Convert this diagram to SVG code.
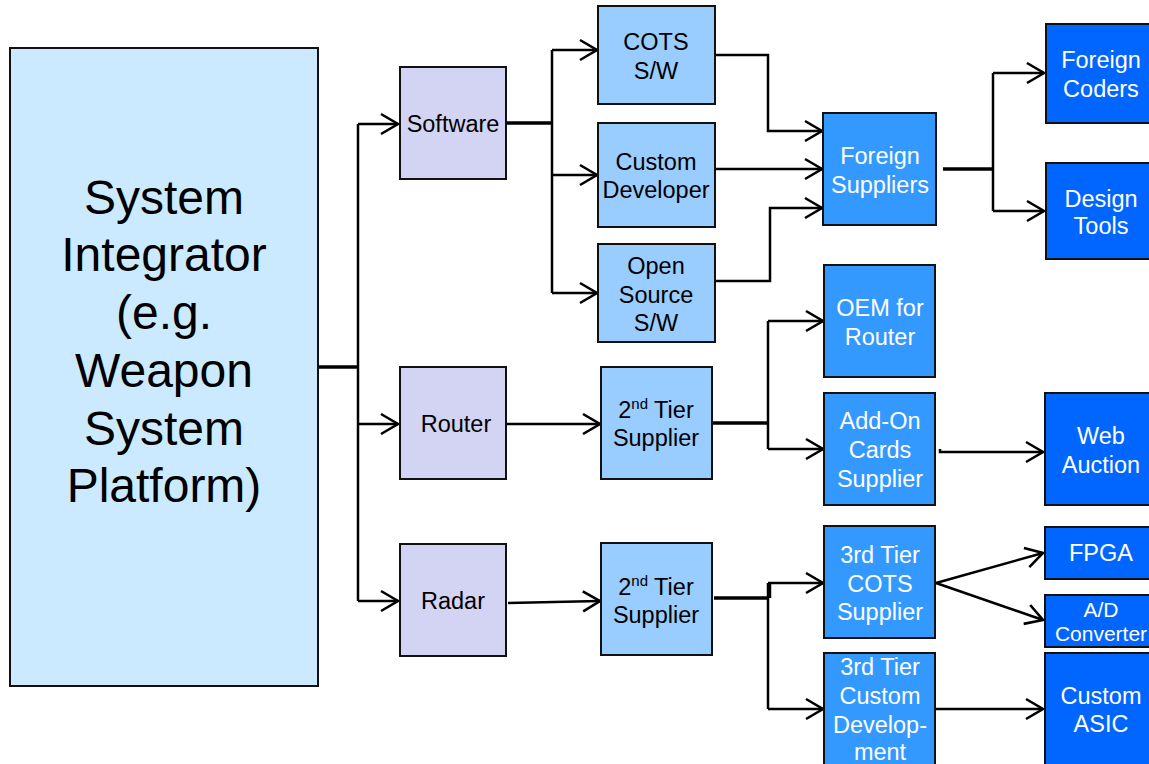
<svg xmlns="http://www.w3.org/2000/svg" width="1149" height="764" viewBox="0 0 1149 764">
  <defs>
    <marker id="arrow" markerUnits="userSpaceOnUse" markerWidth="24" markerHeight="26" viewBox="-20 -13 24 26" refX="0" refY="0" orient="auto">
      <path d="M -17 -10 L 0 0 L -17 10" fill="none" stroke="#000" stroke-width="2.6"/>
    </marker>
  </defs>
  <style>
    .box { stroke: #111; stroke-width: 2; }
    .integrator { fill: #CCEAFF; }
    .domain { fill: #D3D3F3; }
    .tier2 { fill: #99CCFF; }
    .tier3 { fill: #3399FF; }
    .tier4 { fill: #0066FF; }
    text { font-family: "Liberation Sans", Arial, sans-serif; font-size: 23.5px; text-anchor: middle; }
    .dark { fill: #000; }
    .light { fill: #fff; }
    .big { font-size: 48px; }
    .small { font-size: 21px; }
    .sup { font-size: 15px; }
    .link { fill: none; stroke: #000; stroke-width: 2.5; }
    .trunk { fill: none; stroke: #000; stroke-width: 3.5; }
  </style>
  <rect width="1149" height="764" fill="#fff"/>

  <!-- connectors -->
  <g id="connectors">
    <!-- integrator to domains -->
    <path class="trunk" d="M 318 367 L 358 367"/>
    <path class="link" d="M 358 124 L 358 601"/>
    <path class="link" d="M 358 124 L 398 124" marker-end="url(#arrow)"/>
    <path class="link" d="M 358 424 L 398 424" marker-end="url(#arrow)"/>
    <path class="link" d="M 358 601 L 398 601" marker-end="url(#arrow)"/>

    <!-- software branch -->
    <path class="trunk" d="M 506 123 L 552 123"/>
    <path class="link" d="M 552 50 L 552 293"/>
    <path class="link" d="M 552 50 L 597 50" marker-end="url(#arrow)"/>
    <path class="link" d="M 552 175 L 597 175" marker-end="url(#arrow)"/>
    <path class="link" d="M 552 293 L 597 293" marker-end="url(#arrow)"/>

    <!-- software sources to foreign suppliers -->
    <path class="link" d="M 715 55 L 768 55 L 768 131 L 822 131" marker-end="url(#arrow)"/>
    <path class="link" d="M 713 169 L 822 169" marker-end="url(#arrow)"/>
    <path class="link" d="M 715 281 L 770 281 L 770 208 L 822 208" marker-end="url(#arrow)"/>

    <!-- foreign suppliers fan-out -->
    <path class="trunk" d="M 943 169 L 993 169"/>
    <path class="link" d="M 993 73 L 993 211"/>
    <path class="link" d="M 993 73 L 1044 73" marker-end="url(#arrow)"/>
    <path class="link" d="M 993 211 L 1044 211" marker-end="url(#arrow)"/>

    <!-- router branch -->
    <path class="link" d="M 506 424 L 600 424" marker-end="url(#arrow)"/>
    <path class="trunk" d="M 712 423 L 768 423"/>
    <path class="link" d="M 768 321 L 768 449"/>
    <path class="link" d="M 768 321 L 823 321" marker-end="url(#arrow)"/>
    <path class="link" d="M 768 449 L 823 449" marker-end="url(#arrow)"/>
    <path class="link" d="M 940 449 L 940 452 L 1043 452" marker-end="url(#arrow)"/>

    <!-- radar branch -->
    <path class="link" d="M 508 603 L 600 601" marker-end="url(#arrow)"/>
    <path class="trunk" d="M 714 598 L 768 598"/>
    <path class="link" d="M 770 598 L 770 583"/>
    <path class="link" d="M 768 583 L 768 709"/>
    <path class="link" d="M 768 583 L 823 583" marker-end="url(#arrow)"/>
    <path class="link" d="M 768 709 L 823 709" marker-end="url(#arrow)"/>
    <path class="link" d="M 936 583 L 1043 553" marker-end="url(#arrow)"/>
    <path class="link" d="M 936 583 L 1043 620" marker-end="url(#arrow)"/>
    <path class="link" d="M 935 709 L 1043 709" marker-end="url(#arrow)"/>
  </g>

  <!-- system integrator -->
  <g id="node-integrator">
    <rect class="box integrator" x="10" y="48" width="308" height="638"/>
    <text class="dark big" x="164" y="214">System</text>
    <text class="dark big" x="164" y="271">Integrator</text>
    <text class="dark big" x="164" y="329">(e.g.</text>
    <text class="dark big" x="164" y="387">Weapon</text>
    <text class="dark big" x="164" y="445">System</text>
    <text class="dark big" x="164" y="502">Platform)</text>
  </g>

  <!-- domains -->
  <g id="node-software">
    <rect class="box domain" x="400" y="67" width="106" height="112"/>
    <text class="dark" x="453" y="132">Software</text>
  </g>
  <g id="node-router">
    <rect class="box domain" x="400" y="367" width="106" height="112"/>
    <text class="dark" x="456" y="432">Router</text>
  </g>
  <g id="node-radar">
    <rect class="box domain" x="400" y="544" width="106" height="112"/>
    <text class="dark" x="453" y="609">Radar</text>
  </g>

  <!-- software sources -->
  <g id="node-cots-sw">
    <rect class="box tier2" x="598" y="6" width="117" height="98"/>
    <text class="dark" x="656" y="50">COTS</text>
    <text class="dark" x="656" y="79">S/W</text>
  </g>
  <g id="node-custom-developer">
    <rect class="box tier2" x="598" y="123" width="117" height="104"/>
    <text class="dark" x="656" y="170">Custom</text>
    <text class="dark" x="656" y="198">Developer</text>
  </g>
  <g id="node-open-source">
    <rect class="box tier2" x="598" y="244" width="117" height="98"/>
    <text class="dark" x="656" y="274">Open</text>
    <text class="dark" x="656" y="303">Source</text>
    <text class="dark" x="656" y="331">S/W</text>
  </g>

  <!-- second tier suppliers -->
  <g id="node-router-tier2">
    <rect class="box tier2" x="601" y="367" width="111" height="112"/>
    <text class="dark" x="656" y="418">2<tspan class="sup" dy="-9">nd</tspan><tspan dy="9"> Tier</tspan></text>
    <text class="dark" x="656" y="446">Supplier</text>
  </g>
  <g id="node-radar-tier2">
    <rect class="box tier2" x="601" y="543" width="111" height="112"/>
    <text class="dark" x="656" y="595">2<tspan class="sup" dy="-9">nd</tspan><tspan dy="9"> Tier</tspan></text>
    <text class="dark" x="656" y="623">Supplier</text>
  </g>

  <!-- third column -->
  <g id="node-foreign-suppliers">
    <rect class="box tier3" x="823" y="113" width="113" height="112"/>
    <text class="light" x="880" y="164">Foreign</text>
    <text class="light" x="880" y="193">Suppliers</text>
  </g>
  <g id="node-oem-router">
    <rect class="box tier3" x="824" y="265" width="111" height="112"/>
    <text class="light" x="880" y="316">OEM for</text>
    <text class="light" x="880" y="345">Router</text>
  </g>
  <g id="node-addon-cards">
    <rect class="box tier3" x="824" y="393" width="111" height="112"/>
    <text class="light" x="880" y="429">Add-On</text>
    <text class="light" x="880" y="458">Cards</text>
    <text class="light" x="880" y="487">Supplier</text>
  </g>
  <g id="node-tier3-cots">
    <rect class="box tier3" x="824" y="526" width="111" height="112"/>
    <text class="light" x="880" y="563">3rd Tier</text>
    <text class="light" x="880" y="592">COTS</text>
    <text class="light" x="880" y="620">Supplier</text>
  </g>
  <g id="node-tier3-custom">
    <rect class="box tier3" x="824" y="653" width="111" height="120"/>
    <text class="light" x="880" y="675">3rd Tier</text>
    <text class="light" x="880" y="704">Custom</text>
    <text class="light" x="880" y="733">Develop-</text>
    <text class="light" x="880" y="760">ment</text>
  </g>

  <!-- outer column -->
  <g id="node-foreign-coders">
    <rect class="box tier4" x="1046" y="24" width="110" height="99"/>
    <text class="light" x="1101" y="68">Foreign</text>
    <text class="light" x="1101" y="97">Coders</text>
  </g>
  <g id="node-design-tools">
    <rect class="box tier4" x="1046" y="163" width="110" height="96"/>
    <text class="light" x="1101" y="207">Design</text>
    <text class="light" x="1101" y="234">Tools</text>
  </g>
  <g id="node-web-auction">
    <rect class="box tier4" x="1045" y="393" width="111" height="112"/>
    <text class="light" x="1101" y="444">Web</text>
    <text class="light" x="1101" y="473">Auction</text>
  </g>
  <g id="node-fpga">
    <rect class="box tier4" x="1045" y="527" width="111" height="52"/>
    <text class="light" x="1101" y="561">FPGA</text>
  </g>
  <g id="node-ad-converter">
    <rect class="box tier4" x="1045" y="595" width="111" height="52"/>
    <text class="light small" x="1101" y="617">A/D</text>
    <text class="light small" x="1101" y="641">Converter</text>
  </g>
  <g id="node-custom-asic">
    <rect class="box tier4" x="1045" y="653" width="111" height="120"/>
    <text class="light" x="1101" y="704">Custom</text>
    <text class="light" x="1101" y="732">ASIC</text>
  </g>
</svg>
